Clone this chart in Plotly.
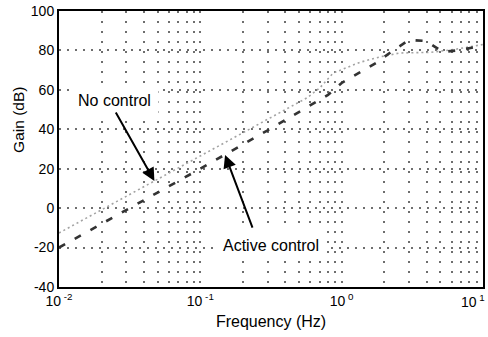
import numpy as np
import plotly.graph_objects as go

# ---- data ----
freq_no_control = [0.01, 0.03, 0.1, 0.3, 0.57, 0.7, 0.87, 1.35, 1.86, 2.57, 4.2, 6.3, 10.0]
gain_no_control = [-12.6, 6.0, 26.5, 45.0, 56.0, 61.0, 68.5, 74.0, 76.7, 78.7, 79.0, 80.5, 83.0]

freq_active = [0.01, 0.03, 0.1, 0.3, 0.6, 0.8, 1.0, 1.35, 1.78, 2.28, 3.0, 3.95, 5.2, 6.9, 8.8, 10.0]
gain_active = [-20.0, -1.0, 20.0, 39.5, 52.0, 57.4, 63.5, 69.0, 74.0, 79.7, 85.3, 84.8, 79.2, 80.2, 81.7, 82.0]

x_tickvals = [0.01, 0.1, 1, 10]
x_ticktext = ["10<sup> -2</sup>", "10<sup> -1</sup>", "10<sup> 0</sup>", "10<sup> 1</sup>"]
x_minor = [m * d for d in [0.01, 0.1, 1] for m in range(2, 10)]
y_tickvals = [-40, -20, 0, 20, 40, 60, 80, 100]
y_ticktext = [str(v) for v in y_tickvals]

FONT = "Liberation Sans, Arial, sans-serif"
GRID = "#6e6e6e"

fig = go.Figure()
fig.add_trace(go.Scatter(x=freq_no_control, y=gain_no_control, mode="lines",
                         line=dict(color="#a3a3a3", width=1.6, dash="2px,3px"),
                         name="No control", showlegend=False))
fig.add_trace(go.Scatter(x=freq_active, y=gain_active, mode="lines",
                         line=dict(color="#333333", width=2.6, dash="7px,11px"),
                         name="Active control", showlegend=False))

# labels (text boxes)
fig.add_annotation(x=-1.604, y=54.8, xref="x", yref="y", text="No control", showarrow=False,
                   font=dict(family=FONT, size=16, color="black"), bgcolor="white", borderpad=7)
fig.add_annotation(x=-0.50, y=-18.7, xref="x", yref="y", text="Active control", showarrow=False,
                   font=dict(family=FONT, size=16, color="black"), bgcolor="white", borderpad=6)
# arrows
fig.add_annotation(x=-1.325, y=13.8, ax=-1.604, ay=49.3, xref="x", yref="y", axref="x", ayref="y",
                   text="", showarrow=True, arrowhead=2, arrowsize=1.3, arrowwidth=2, arrowcolor="black")
fig.add_annotation(x=-0.825, y=27.0, ax=-0.627, ay=-10.6, xref="x", yref="y", axref="x", ayref="y",
                   text="", showarrow=True, arrowhead=2, arrowsize=1.3, arrowwidth=2, arrowcolor="black")
# y-axis title (placed above centre, as in the reference)
fig.add_annotation(x=-0.097, y=0.605, xref="paper", yref="paper", text="Gain (dB)", textangle=-90,
                   showarrow=False, xanchor="center", yanchor="middle",
                   font=dict(family=FONT, size=15.5, color="black"))

# last decade label drawn inside the canvas (right-aligned so it is not clipped)
tick_text_axis = x_ticktext[:-1] + [""]
fig.add_annotation(x=1.0, y=0, xref="paper", yref="paper", text=x_ticktext[-1], showarrow=False,
                   xanchor="right", yanchor="top", xshift=4, yshift=-3,
                   font=dict(family=FONT, size=14, color="black"))

fig.update_xaxes(type="log", range=[-2, 1], tickvals=x_tickvals, ticktext=tick_text_axis,
                 showline=True, linecolor="black", linewidth=2, mirror=True, ticks="",
                 showgrid=True, gridcolor=GRID, gridwidth=1.5, griddash="2px,8px",
                 minor=dict(tickvals=x_minor, showgrid=True, gridcolor=GRID, gridwidth=1.5,
                            griddash="2px,8px", ticks=""),
                 zeroline=False, tickfont=dict(family=FONT, size=14, color="black"),
                 title=dict(text="Frequency (Hz)", font=dict(family=FONT, size=16, color="black"),
                            standoff=8))
fig.update_yaxes(range=[-40, 100], tickvals=y_tickvals, ticktext=y_ticktext,
                 showline=True, linecolor="black", linewidth=2, mirror=True, ticks="",
                 showgrid=True, gridcolor=GRID, gridwidth=1.5, griddash="2px,6px",
                 zeroline=False, tickfont=dict(family=FONT, size=14, color="black"))

fig.update_layout(width=488, height=337, margin=dict(l=59, r=5, t=11, b=50, autoexpand=False),
                  plot_bgcolor="white", paper_bgcolor="white", showlegend=False)

fig.write_html("out.html")
